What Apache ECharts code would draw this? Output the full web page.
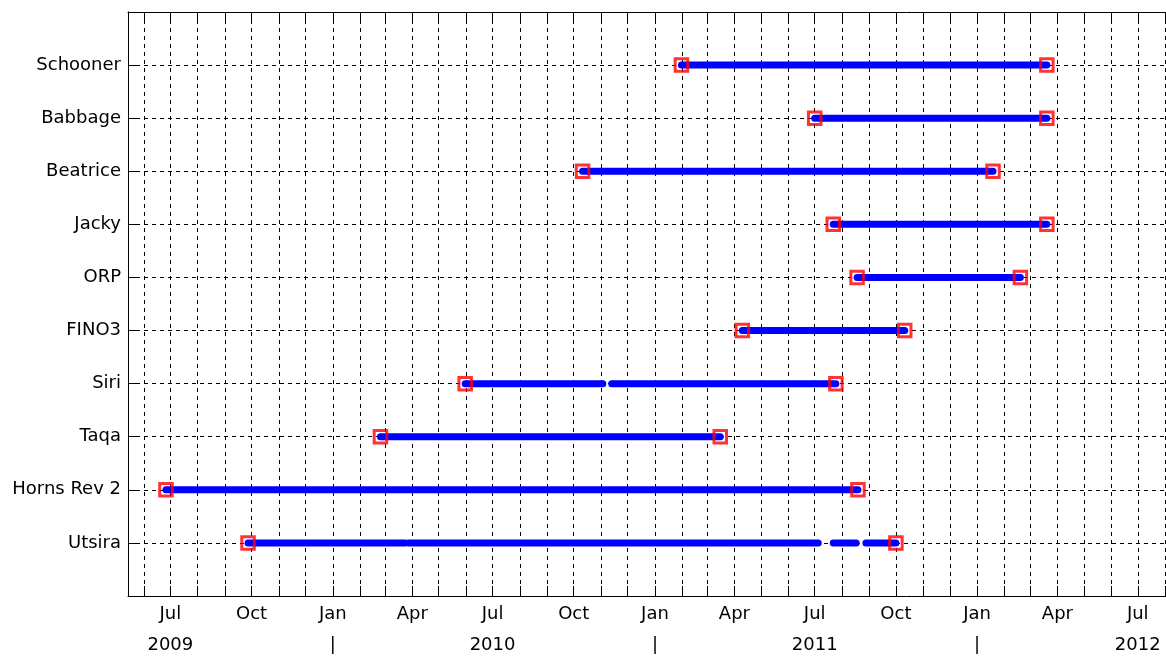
<!DOCTYPE html>
<html>
<head>
<meta charset="utf-8">
<script src="https://cdn.jsdelivr.net/npm/echarts@6/dist/echarts.min.js"></script>
<style>
html,body{margin:0;padding:0;background:#fff;overflow:hidden;}
#chart{width:1166px;height:657px;}
</style>
</head>
<body>
<div id="chart"></div>
<script>
// Stations from bottom to top
const stations = ['Utsira','Horns Rev 2','Taqa','Siri','FINO3','ORP','Jacky','Beatrice','Babbage','Schooner'];
const startDates = ['2009-09-27','2009-06-26','2010-02-24','2010-05-31','2011-04-10','2011-08-18','2011-07-22','2010-10-11','2011-07-01','2011-01-31'];
const endDates   = ['2011-10-01','2011-08-19','2011-03-16','2011-07-25','2011-10-11','2012-02-19','2012-03-20','2012-01-19','2012-03-20','2012-03-20'];
// Data gaps within a station's record
const gapStations = ['Utsira','Utsira','Utsira','Siri'];
const gapStarts   = ['2010-03-24','2011-07-05','2011-08-17','2010-11-03'];
const gapEnds     = ['2010-03-28','2011-07-22','2011-08-28','2010-11-13'];
// Axis labels
const quarterLabels = ['Jan','Apr','Jul','Oct'];
const axisStart = '2009-05-14';
const axisEnd = '2012-08-02';

function t(s){ const p = s.split('-').map(Number); return Date.UTC(p[0], p[1]-1, p[2]); }

const FONT = 'DejaVu Sans';
const series = [];
const markerData = [];
stations.forEach((name, i) => {
  const y = i + 1;
  let cuts = [];
  gapStations.forEach((g, k) => { if (g === name) cuts.push([t(gapStarts[k]), t(gapEnds[k])]); });
  cuts.sort((a,b)=>a[0]-b[0]);
  let cur = t(startDates[i]);
  const end = t(endDates[i]);
  const segs = [];
  cuts.forEach(c => { segs.push([cur, c[0]]); cur = c[1]; });
  segs.push([cur, end]);
  segs.forEach(s => {
    series.push({
      type: 'line', xAxisIndex: 0, yAxisIndex: 0,
      data: [[s[0], y], [s[1], y]],
      symbol: 'none', silent: true, animation: false, z: 3,
      lineStyle: { color: '#0000ff', width: 7, cap: 'round' }
    });
  });
  markerData.push([t(startDates[i]), y], [end, y]);
});
series.push({
  type: 'scatter', data: markerData, symbol: 'rect', symbolSize: 12.5,
  silent: true, animation: false, z: 5,
  itemStyle: { color: 'rgba(0,0,0,0)', borderColor: '#ff0000', borderWidth: 3 }
});

const DAY = 86400000;
const dash = { show: true, lineStyle: { color: '#000', width: 1, type: [4, 4] } };
const chart = echarts.init(document.getElementById('chart'), null, { renderer: 'canvas' });
chart.setOption({
  useUTC: true,
  animation: false,
  backgroundColor: '#fff',
  grid: { left: 128, top: 12, right: 0, bottom: 61, containLabel: false, outerBoundsMode: 'none' },
  xAxis: [{
    type: 'time', position: 'bottom',
    min: t(axisStart), max: t(axisEnd),
    minInterval: 28 * DAY, maxInterval: 31 * DAY,
    axisLine: { show: true, lineStyle: { color: '#000', width: 1 } },
    axisTick: { show: true, inside: true, length: 10, lineStyle: { color: '#000' } },
    splitLine: dash,
    axisLabel: {
      show: true, color: '#000', fontFamily: FONT, fontSize: 18, lineHeight: 31, margin: 3,
      hideOverlap: false, showMinLabel: false, showMaxLabel: false,
      formatter: function (val) {
        const d = new Date(val);
        if (d.getUTCDate() !== 1) return '';
        const m = d.getUTCMonth();
        if (m % 3 !== 0) return '';
        const name = quarterLabels[m / 3];
        if (m === 6) return name + '\n' + d.getUTCFullYear();
        if (m === 0) return name + '\n|';
        return name;
      }
    }
  }, {
    type: 'time', position: 'top',
    min: t(axisStart), max: t(axisEnd),
    minInterval: 28 * DAY, maxInterval: 31 * DAY,
    axisLine: { show: true, lineStyle: { color: '#000', width: 1 } },
    axisTick: { show: true, inside: true, length: 10, lineStyle: { color: '#000' } },
    axisLabel: { show: false },
    splitLine: { show: false }
  }],
  yAxis: {
    type: 'value', min: 0, max: 11, interval: 1,
    axisLine: { show: true, lineStyle: { color: '#000', width: 1 } },
    axisTick: { show: true, inside: true, length: 10, lineStyle: { color: '#000' } },
    splitLine: { show: true, showMinLine: false, showMaxLine: false, lineStyle: { color: '#000', width: 1, type: [4, 4] } },
    axisLabel: {
      color: '#000', fontFamily: FONT, fontSize: 18, margin: 7,
      formatter: function (v) { return (v >= 1 && v <= stations.length) ? stations[v - 1] : ''; }
    }
  },
  series: series
});
</script>
</body>
</html>
